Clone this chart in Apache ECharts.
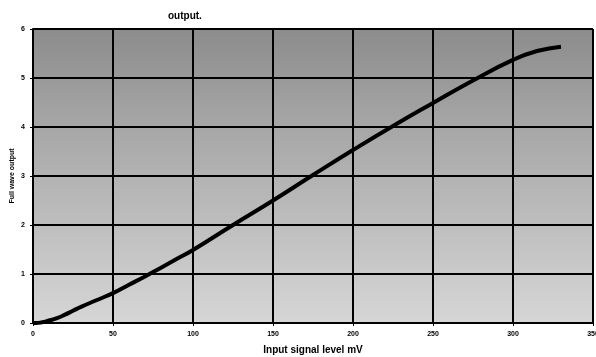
<!DOCTYPE html>
<html>
<head>
<meta charset="utf-8">
<script src="https://cdn.jsdelivr.net/npm/echarts@6/dist/echarts.min.js"></script>
<style>
  html, body { margin: 0; padding: 0; background: #fff; }
  #main { width: 596px; height: 357px; }
</style>
</head>
<body>
<div id="main"></div>
<script>
// input signal level (mV) and full wave output
const inputMv = [0, 2, 5, 10, 15, 20, 25, 30, 40, 50, 60, 70, 80, 90, 100, 125, 150, 175, 200, 225, 250, 275, 300, 315, 330];
const fullWave = [0, 0, 0.01, 0.05, 0.1, 0.17, 0.25, 0.33, 0.47, 0.61, 0.78, 0.95, 1.13, 1.31, 1.49, 2.0, 2.5, 3.02, 3.53, 4.02, 4.49, 4.95, 5.37, 5.55, 5.64];

const points = inputMv.map((x, i) => [x, fullWave[i]]);

const chart = echarts.init(document.getElementById("main"));

const option = {
  animation: false,
  title: {
    text: "output.",
    left: 163,
    top: 6,
    textStyle: { fontFamily: "Liberation Sans", fontSize: 10, fontWeight: "bold", color: "#000" }
  },
  grid: {
    left: 33,
    right: 3,
    top: 29,
    bottom: 34,
    outerBoundsMode: "none",
    containLabel: false,
    show: true,
    borderWidth: 0,
    backgroundColor: new echarts.graphic.LinearGradient(0, 0, 0, 1, [
      { offset: 0, color: "#8c8c8c" },
      { offset: 0.3, color: "#a4a4a4" },
      { offset: 1, color: "#d6d6d6" }
    ])
  },
  xAxis: {
    type: "value",
    min: 0,
    max: 350,
    interval: 50,
    name: "Input signal level mV",
    nameLocation: "middle",
    nameGap: 22,
    nameTextStyle: { fontFamily: "Liberation Sans", fontSize: 10, fontWeight: "bold", color: "#000" },
    axisLine: { lineStyle: { color: "#000", width: 2 } },
    axisTick: { show: true, length: 3, lineStyle: { color: "#000" } },
    axisLabel: { fontFamily: "Liberation Sans", fontSize: 7, fontWeight: "bold", color: "#000", margin: 8 },
    splitLine: { show: true, lineStyle: { color: "#000", width: 2 } }
  },
  yAxis: {
    type: "value",
    min: 0,
    max: 6,
    interval: 1,
    name: "Full wave output",
    nameLocation: "middle",
    nameGap: 17,
    nameMoveOverlap: false,
    nameTextStyle: { fontFamily: "Liberation Sans", fontSize: 7, fontWeight: "bold", color: "#000" },
    axisLine: { show: true, lineStyle: { color: "#000", width: 2 } },
    axisTick: { show: true, length: 3, lineStyle: { color: "#000" } },
    axisLabel: { fontFamily: "Liberation Sans", fontSize: 7, fontWeight: "bold", color: "#000", margin: 8 },
    splitLine: { show: true, lineStyle: { color: "#000", width: 2 } }
  },
  series: [
    {
      type: "line",
      data: points,
      smooth: true,
      symbol: "none",
      lineStyle: { color: "#000", width: 4 }
    }
  ]
};

chart.setOption(option);
</script>
</body>
</html>
